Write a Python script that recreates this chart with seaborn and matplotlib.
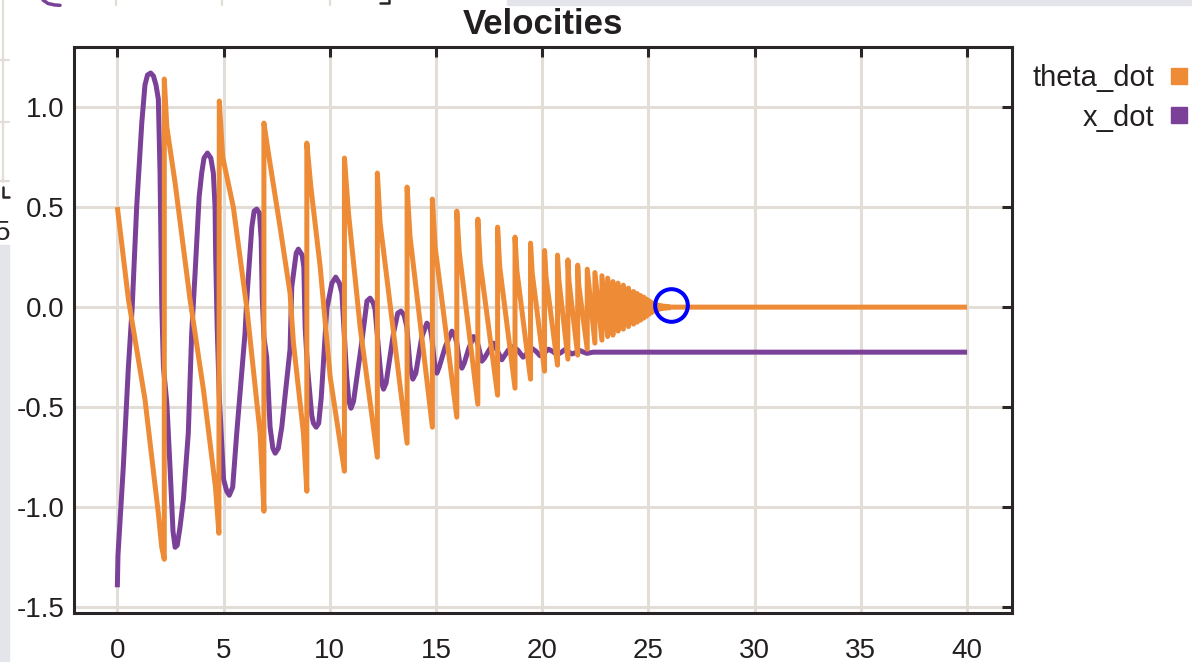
import matplotlib
matplotlib.use("Agg")
import matplotlib.pyplot as plt
from matplotlib.lines import Line2D
from matplotlib.patches import Rectangle
import pandas as pd
import seaborn as sns

# theta_dot: sawtooth vertices (time, value)
theta_t = [
    0.00, 0.52, 1.30, 1.93, 2.09, 2.21,
    2.21, 2.33, 2.72, 3.42, 4.05, 4.62, 4.78,
    4.80, 4.96, 5.46, 6.09, 6.72, 6.90,
    6.90, 7.11, 7.66, 8.13, 8.29, 8.76, 8.92,
    8.92, 9.11, 9.55, 10.02, 10.49, 10.69,
    10.69, 10.88, 11.43, 12.24,
    12.24, 12.37, 13.64,
    13.64, 13.78, 14.83,
    14.83, 14.96, 15.98,
    15.98, 16.10, 16.97,
    16.97, 17.08, 17.90,
    17.90, 18.00, 18.72,
    18.72, 18.81, 19.45,
    19.45, 19.53, 20.11,
    20.11, 20.18, 20.72,
    20.72, 20.78, 21.21,
    21.21, 21.26, 21.67,
    21.67, 21.72, 22.12,
    22.12, 22.48, 22.48, 22.81, 22.81, 23.08, 23.08, 23.33,
    23.33, 23.57, 23.57, 23.82, 23.82, 24.06, 24.06, 24.30,
    24.30, 24.47, 24.47, 24.63, 24.63, 24.78, 24.78, 24.91,
    24.91, 25.03, 25.03, 25.14, 25.14, 25.25, 25.25, 25.37,
    25.37, 25.50, 25.50, 25.64, 25.64, 25.80, 25.80, 25.95,
    25.95, 26.05, 40.00,
]
theta_v = [
    0.50, 0.04, -0.46, -1.03, -1.20, -1.26,
    1.14, 0.90, 0.62, 0.04, -0.41, -0.90, -1.13,
    1.03, 0.75, 0.50, 0.00, -0.63, -1.02,
    0.92, 0.77, 0.40, 0.07, -0.18, -0.63, -0.92,
    0.82, 0.60, 0.20, -0.35, -0.68, -0.82,
    0.745, 0.47, -0.10, -0.75,
    0.67, 0.42, -0.68,
    0.60, 0.35, -0.60,
    0.54, 0.30, -0.55,
    0.48, 0.27, -0.485,
    0.44, 0.22, -0.44,
    0.40, 0.20, -0.405,
    0.35, 0.18, -0.36,
    0.32, 0.17, -0.32,
    0.283, 0.15, -0.29,
    0.26, 0.14, -0.26,
    0.236, 0.13, -0.24,
    0.21, 0.11, -0.21,
    0.19, -0.18, 0.173, -0.165, 0.157, -0.147, 0.145, -0.14,
    0.128, -0.12, 0.12, -0.11, 0.11, -0.097, 0.095, -0.085,
    0.078, -0.075, 0.068, -0.065, 0.058, -0.055, 0.050, -0.045,
    0.040, -0.036, 0.032, -0.028, 0.024, -0.020, 0.018, -0.015,
    0.013, -0.011, 0.010, -0.008, 0.007, -0.006, 0.005, -0.004,
    0.003, 0.000, 0.000,
]

# x_dot: damped oscillation settling at about -0.225
xdot_t = [
    0.00, 0.03, 0.28, 0.52, 0.70, 0.91, 1.15, 1.30, 1.42, 1.57,
    1.70, 1.82, 1.93, 2.01, 2.09, 2.17, 2.33, 2.48, 2.62, 2.72,
    2.82, 2.95, 3.11, 3.34, 3.50, 3.66, 3.85, 3.97, 4.08, 4.24,
    4.40, 4.52, 4.60, 4.63, 4.70, 4.80, 5.00, 5.15, 5.27, 5.43,
    5.62, 6.01, 6.10, 6.33, 6.44, 6.56, 6.69, 6.77, 6.82, 6.90,
    7.03, 7.19, 7.32, 7.43, 7.58, 7.74, 8.13, 8.21, 8.42, 8.52,
    8.70, 8.78, 8.84, 8.95, 9.15, 9.23, 9.36, 9.48, 9.60, 9.86,
    10.10, 10.28, 10.45, 10.57, 10.80, 10.90, 11.00, 11.12, 11.50, 11.75,
    11.90, 12.05, 12.13, 12.37, 12.45, 12.53, 12.65, 13.00, 13.20, 13.35,
    13.50, 13.63, 13.78, 13.91, 14.05, 14.33, 14.57, 14.72, 14.80, 14.95,
    15.04, 15.15, 15.43, 15.75, 15.88, 15.98, 16.12, 16.22, 16.33, 16.53,
    16.77, 16.90, 17.00, 17.16, 17.28, 17.47, 17.71, 17.90, 18.10, 18.40,
    18.65, 18.85, 19.10, 19.30, 19.50, 19.70, 19.90, 20.10, 20.30, 20.50,
    20.70, 20.90, 21.05, 21.25, 21.40, 21.60, 21.75, 21.95, 22.10, 22.40,
    40.00,
]
xdot_v = [
    -1.40, -1.24, -0.80, -0.30, 0.00, 0.50, 0.92, 1.11, 1.16, 1.17,
    1.155, 1.11, 1.04, 0.67, 0.02, -0.30, -0.48, -0.80, -1.12, -1.20,
    -1.19, -1.10, -0.96, -0.63, -0.13, 0.17, 0.55, 0.67, 0.745, 0.77,
    0.745, 0.67, 0.50, 0.25, -0.10, -0.45, -0.86, -0.92, -0.94, -0.90,
    -0.63, -0.13, 0.05, 0.40, 0.48, 0.49, 0.47, 0.34, 0.05, -0.15,
    -0.25, -0.60, -0.705, -0.73, -0.705, -0.60, -0.21, 0.10, 0.27, 0.29,
    0.26, 0.20, -0.10, -0.30, -0.54, -0.58, -0.60, -0.58, -0.45, -0.01,
    0.12, 0.15, 0.12, 0.07, -0.35, -0.47, -0.505, -0.47, -0.18, 0.03,
    0.045, 0.02, -0.01, -0.30, -0.38, -0.41, -0.38, -0.13, -0.03, -0.02,
    -0.04, -0.10, -0.30, -0.36, -0.33, -0.15, -0.08, -0.10, -0.15, -0.30,
    -0.33, -0.30, -0.20, -0.12, -0.14, -0.18, -0.28, -0.305, -0.28, -0.21,
    -0.147, -0.16, -0.197, -0.27, -0.255, -0.22, -0.18, -0.22, -0.263, -0.215,
    -0.197, -0.215, -0.25, -0.23, -0.205, -0.22, -0.243, -0.228, -0.21, -0.222,
    -0.238, -0.226, -0.213, -0.224, -0.234, -0.226, -0.216, -0.225, -0.231, -0.225,
    -0.225,
]

series_names = ["theta_dot", "x_dot"]
x_ticks = [0, 5, 10, 15, 20, 25, 30, 35, 40]
y_ticks = [-1.5, -1.0, -0.5, 0.0, 0.5, 1.0]
marker_t, marker_v = 26.07, 0.013   # highlighted point

ORANGE = "#EE8B36"
PURPLE = "#7B4199"
GRID = "#E3DDD7"
DARK = "#2A2526"
SIDE_GRAY = "#E4E4EB"

sns.set_theme(style="white")
plt.rcParams["font.family"] = ["Liberation Sans", "DejaVu Sans"]
plt.rcParams["axes.unicode_minus"] = False

W, H = 1192, 662
fig = plt.figure(figsize=(W / 100, H / 100), dpi=100)
fig.patch.set_facecolor("white")


def fx(x):
    return x / W


def fy(y):
    return 1 - y / H


# bits of other windows around the screenshot
fig.patches.append(Rectangle((0, fy(662)), fx(9), fy(245) - fy(662),
                             transform=fig.transFigure, color=SIDE_GRAY, zorder=0))
fig.patches.append(Rectangle((fx(507), fy(5)), 1 - fx(507), fy(0) - fy(5),
                             transform=fig.transFigure, color=SIDE_GRAY, zorder=0))
for xs, ys, c, lw in [
    ([3, 3], [0, 182], GRID, 1.6),
    ([0, 9], [60, 60], GRID, 1.6),
    ([0, 9], [122, 122], GRID, 1.6),
    ([0, 9], [181, 181], GRID, 1.6),
    ([116, 116], [0, 5], GRID, 1.6),
    ([222, 222], [0, 5], GRID, 1.6),
    ([330, 330], [0, 5], GRID, 1.6),
    ([2.5, 2.5, 9], [187, 197, 197], DARK, 1.8),
    ([380, 389, 389], [3, 3, 0], DARK, 1.8),
    ([43, 48, 55, 60], [0, 3.5, 5, 5.3], PURPLE, 2.5),
]:
    fig.add_artist(Line2D([fx(v) for v in xs], [fy(v) for v in ys],
                          transform=fig.transFigure, color=c, lw=lw))
fig.text(fx(10), fy(233), "5", ha="right", va="center", fontsize=20, color=DARK)

ax = fig.add_axes([fx(74), fy(613.3), fx(1011.7) - fx(74), fy(47) - fy(613.3)])

df_x = pd.DataFrame({"t": xdot_t, "v": xdot_v})
df_th = pd.DataFrame({"t": theta_t, "v": theta_v})
sns.lineplot(data=df_x, x="t", y="v", estimator=None, sort=False,
             color=PURPLE, lw=3.6, ax=ax, zorder=3,
             solid_joinstyle="round", solid_capstyle="butt")
sns.lineplot(data=df_th, x="t", y="v", estimator=None, sort=False,
             color=ORANGE, lw=3.6, ax=ax, zorder=4,
             solid_joinstyle="round", solid_capstyle="butt")
ax.plot([marker_t], [marker_v], marker="o", ms=23.5, mfc="none",
        mec="#0000FF", mew=2.9, zorder=6)

ax.set_xlim(-2.04, 42.1)
ax.set_ylim(-1.53, 1.30)
ax.set_xticks(x_ticks)
ax.set_yticks(y_ticks)
ax.set_xticklabels([str(v) for v in x_ticks])
ax.set_yticklabels([f"{v:.1f}" for v in y_ticks])
ax.set_xlabel("")
ax.set_ylabel("")
ax.grid(True, color=GRID, lw=2.2)
ax.set_axisbelow(True)
for s in ax.spines.values():
    s.set_color(DARK)
    s.set_linewidth(2.2)
ax.tick_params(axis="both", direction="in", length=7.5, width=2.2, color=DARK,
               labelcolor="#231F20", labelsize=20, top=True, right=True)
ax.tick_params(axis="x", pad=17.5)
ax.tick_params(axis="y", pad=7)

ax.set_title("Velocities", fontsize=25, fontweight="bold", color="#231F20", pad=9)

handles = [Line2D([], [], ls="none", marker="s", ms=11, color=c, mec=c)
           for c in (ORANGE, PURPLE)]
ax.legend(handles, series_names, loc="upper right",
          bbox_to_anchor=(fx(1187.3), fy(64)), bbox_transform=fig.transFigure,
          frameon=False, markerfirst=False, fontsize=21, handlelength=0.6,
          handletextpad=0.54, borderpad=0, borderaxespad=0, labelspacing=0.4,
          labelcolor="#231F20")

fig.savefig("out.png", dpi=100)
